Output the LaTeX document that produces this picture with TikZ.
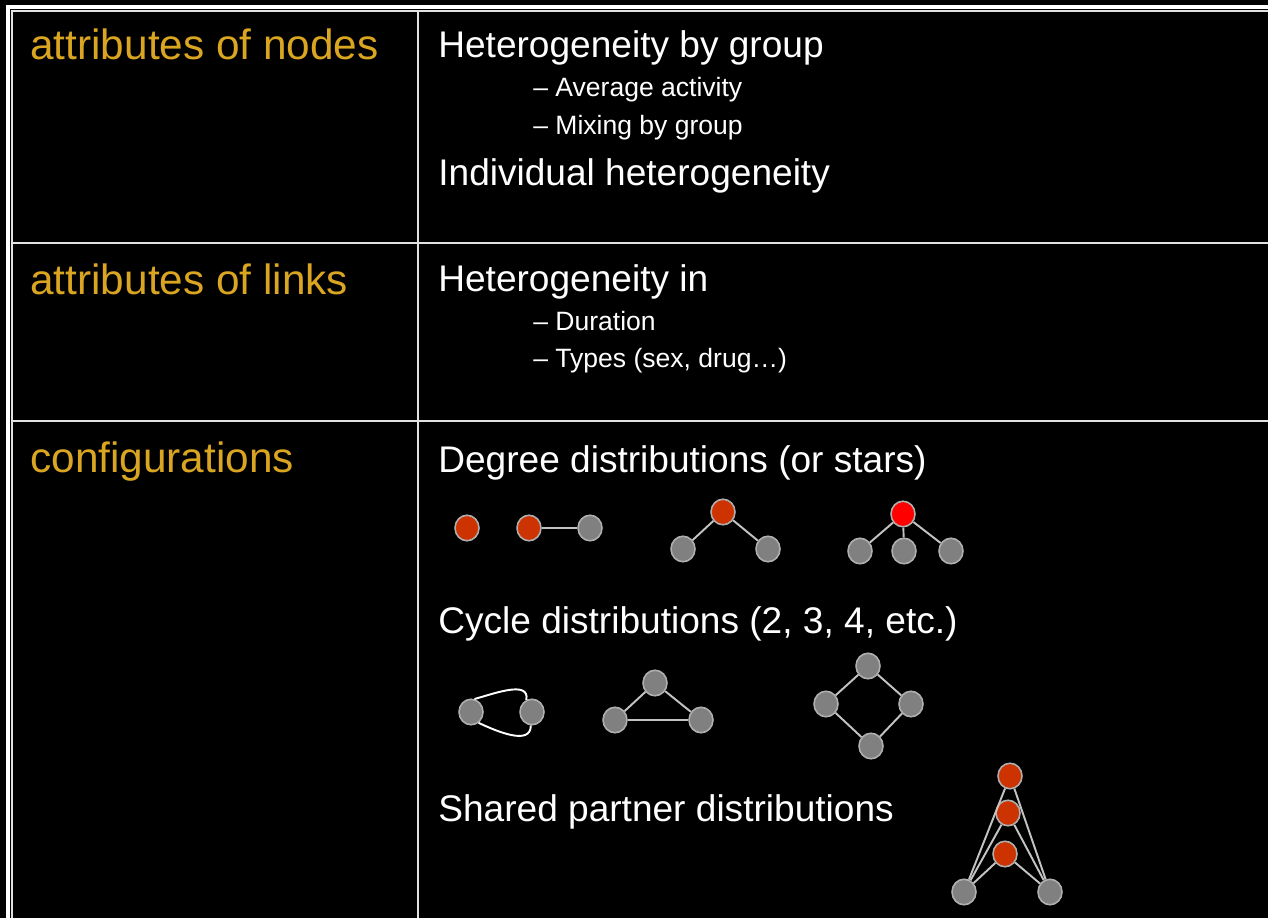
\documentclass[tikz,border=0pt]{standalone}
\usepackage{fontspec}
\setmainfont{Liberation Sans}
\usetikzlibrary{shapes.geometric}
\definecolor{label}{RGB}{218,165,32}
\definecolor{rule}{RGB}{225,225,225}
\definecolor{vtxgray}{RGB}{128,128,128}
\definecolor{vtxrim}{RGB}{175,175,175}
\definecolor{vtxred}{RGB}{204,51,0}
\definecolor{edgegray}{RGB}{195,195,195}

\begin{document}
\begin{tikzpicture}[x=0.02cm, y=-0.02cm,
  every node/.style={inner sep=0pt, anchor=base west},
  rowhead/.style={text=label, font=\fontsize{24.1}{29}\selectfont},
  item/.style={text=white, font=\fontsize{21.1}{25}\selectfont},
  subitem/.style={text=white, font=\fontsize{15.1}{18}\selectfont},
  vtx/.style={ellipse, anchor=center, fill=vtxgray, draw=vtxrim, line width=0.9pt, minimum width=0.48cm, minimum height=0.51cm},
  hub/.style={vtx, fill=vtxred},
  tie/.style={draw=edgegray, line width=1.1pt}]
% Background and table
\fill[black] (0,0) rectangle (1268,918);
\useasboundingbox (0,0) rectangle (1268,918);
\draw[white, line width=2.3pt] (8,918) -- (8,7) -- (1268,7);
\draw[rule, line width=1pt] (12,918) -- (12,11) -- (1268,11);
\draw[rule, line width=1.2pt] (418,11) -- (418,918);
\draw[rule, line width=1.2pt] (12,243) -- (1268,243);
\draw[rule, line width=1.2pt] (12,421) -- (1268,421);

% Row headings
\node[rowhead] (nodes) at (30,60) {attributes of nodes};
\node[rowhead] (links) at (30,295) {attributes of links};
\node[rowhead] (config) at (30,473) {configurations};

% Right column text
\node[item] (hetgroup) at (438,58) {Heterogeneity by group};
\node[subitem] (avgact) at (533,97) {– Average activity};
\node[subitem] (mixing) at (533,135) {– Mixing by group};
\node[item] (indiv) at (438,186) {Individual heterogeneity};
\node[item] (hetin) at (438,292) {Heterogeneity in};
\node[subitem] (duration) at (533,331) {– Duration};
\node[subitem] (types) at (533,368) {– Types (sex, drug…)};
\node[item] (degree) at (438,473) {Degree distributions (or stars)};
\node[item] (cycle) at (438,633) {Cycle distributions (2, 3, 4, etc.)};
\node[item] (shared) at (438,821) {Shared partner distributions};

% Degree distributions
\node[hub] (iso) at (467,528) {};
\node[hub] (dyadA) at (529,528) {};
\node[vtx] (dyadB) at (590,528) {};
\node[hub] (twoC) at (723,512) {};
\node[vtx] (twoL) at (683,549) {};
\node[vtx] (twoR) at (768,549) {};
\node[hub, fill=red] (thrC) at (903,514) {};
\node[vtx] (thrL) at (860,551) {};
\node[vtx] (thrM) at (904,551) {};
\node[vtx] (thrR) at (951,551) {};
\draw[tie] (dyadA) -- (dyadB);
\draw[tie] (twoC) -- (twoL);
\draw[tie] (twoC) -- (twoR);
\draw[tie] (thrC) -- (thrL);
\draw[tie] (thrC) -- (thrM);
\draw[tie] (thrC) -- (thrR);

% Cycle distributions
\node[vtx] (cycA) at (471,712) {};
\node[vtx] (cycB) at (532,712) {};
\draw[white, line width=1.1pt] (cycA.75) to[out=15,in=80] (cycB.115);
\draw[white, line width=1.1pt] (cycA.-55) to[out=-25,in=-90] (cycB.-95);
\node[vtx] (triT) at (655,683) {};
\node[vtx] (triL) at (615,720) {};
\node[vtx] (triR) at (701,720) {};
\draw[tie] (triT) -- (triL) -- (triR) -- (triT);
\node[vtx] (sqT) at (868,666) {};
\node[vtx] (sqL) at (826,704) {};
\node[vtx] (sqR) at (911,704) {};
\node[vtx] (sqB) at (871,746) {};
\draw[tie] (sqT) -- (sqL) -- (sqB) -- (sqR) -- (sqT);

% Shared partners
\node[hub] (spA) at (1010,776) {};
\node[hub] (spB) at (1008,813) {};
\node[hub] (spC) at (1005,854) {};
\node[vtx] (spL) at (964,892) {};
\node[vtx] (spR) at (1050,892) {};
\foreach \p in {spA,spB,spC} {
  \draw[tie] (spL) -- (\p);
  \draw[tie] (spR) -- (\p);
}
\end{tikzpicture}
\end{document}
